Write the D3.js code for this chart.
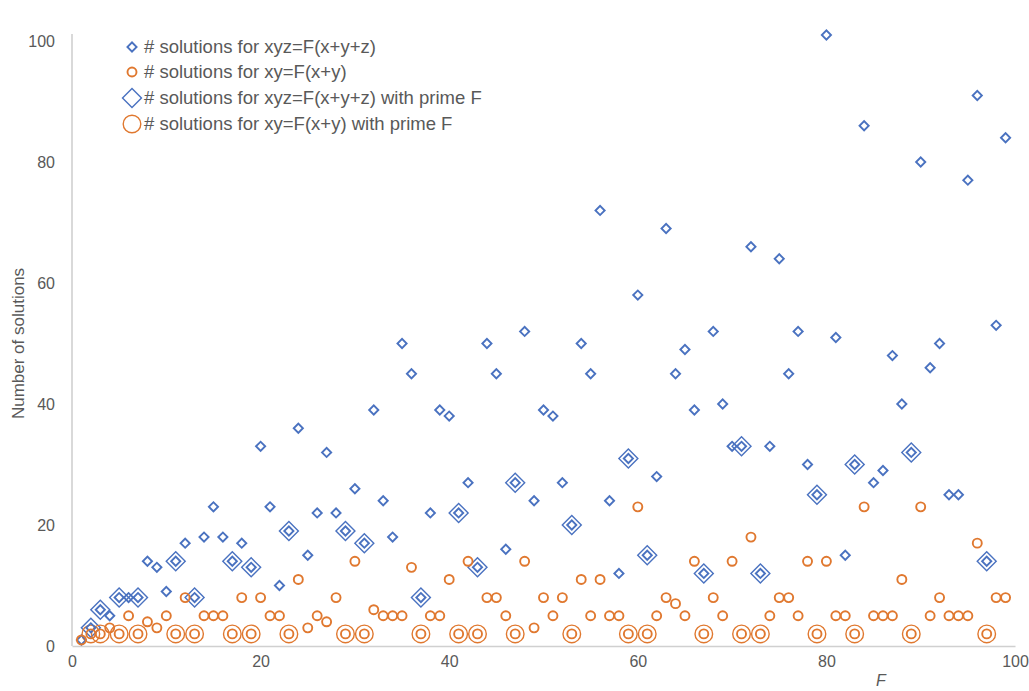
<!DOCTYPE html>
<html>
<head>
<meta charset="utf-8">
<script src="https://cdn.jsdelivr.net/npm/d3@7"></script>
<style>
  html, body { margin: 0; padding: 0; background: #fff; }
  svg { display: block; font-family: "Liberation Sans", Arial, sans-serif; }
</style>
</head>
<body>
<svg id="chart" width="1029" height="691"></svg>
<script>
// F values 1..99
const F = d3.range(1, 100);

// Number of solutions of xyz = F(x+y+z), for F = 1..99
const xyzCounts = [
  1, 3, 6, 5, 8, 8, 8, 14, 13, 9,
  14, 17, 8, 18, 23, 18, 14, 17, 13, 33,
  23, 10, 19, 36, 15, 22, 32, 22, 19, 26,
  17, 39, 24, 18, 50, 45, 8, 22, 39, 38,
  22, 27, 13, 50, 45, 16, 27, 52, 24, 39,
  38, 27, 20, 50, 45, 72, 24, 12, 31, 58,
  15, 28, 69, 45, 49, 39, 12, 52, 40, 33,
  33, 66, 12, 33, 64, 45, 52, 30, 25, 101,
  51, 15, 30, 86, 27, 29, 48, 40, 32, 80,
  46, 50, 25, 25, 77, 91, 14, 53, 84
];

// Number of solutions of xy = F(x+y), for F = 1..99
const xyCounts = [
  1, 2, 2, 3, 2, 5, 2, 4, 3, 5,
  2, 8, 2, 5, 5, 5, 2, 8, 2, 8,
  5, 5, 2, 11, 3, 5, 4, 8, 2, 14,
  2, 6, 5, 5, 5, 13, 2, 5, 5, 11,
  2, 14, 2, 8, 8, 5, 2, 14, 3, 8,
  5, 8, 2, 11, 5, 11, 5, 5, 2, 23,
  2, 5, 8, 7, 5, 14, 2, 8, 5, 14,
  2, 18, 2, 5, 8, 8, 5, 14, 2, 14,
  5, 5, 2, 23, 5, 5, 5, 11, 2, 23,
  5, 8, 5, 5, 5, 17, 2, 8, 8
];

// Prime values of F below 100
const primes = [2, 3, 5, 7, 11, 13, 17, 19, 23, 29, 31, 37, 41, 43, 47,
  53, 59, 61, 67, 71, 73, 79, 83, 89, 97];

const xTicks = [0, 20, 40, 60, 80, 100];
const yTicks = [0, 20, 40, 60, 80, 100];

const legendLabels = [
  "# solutions for xyz=F(x+y+z)",
  "# solutions for xy=F(x+y)",
  "# solutions for xyz=F(x+y+z) with prime F",
  "# solutions for xy=F(x+y) with prime F"
];

const BLUE = "#4a72c0";
const ORANGE = "#e0782f";
const AXIS = "#d0d0d0";
const TEXT = "#595959";

const svg = d3.select("#chart");

const x = d3.scaleLinear().domain([0, 100]).range([72, 1015]);
const y = d3.scaleLinear().domain([0, 100]).range([646, 41]);

const xyzPts = F.map((f, i) => ({ f, v: xyzCounts[i] }));
const xyPts = F.map((f, i) => ({ f, v: xyCounts[i] }));
const xyzPrime = xyzPts.filter(d => primes.includes(d.f));
const xyPrime = xyPts.filter(d => primes.includes(d.f));

// Axes
const xAxis = d3.axisBottom(x).tickValues(xTicks).tickSize(0).tickPadding(10);
const yAxis = d3.axisLeft(y).tickValues(yTicks).tickSize(0).tickPadding(17);

const gx = svg.append("g").attr("transform", `translate(0,${y(0)})`).call(xAxis);
const gy = svg.append("g").attr("transform", `translate(${x(0)},0)`).call(yAxis);

[gx, gy].forEach(g => {
  g.select(".domain").attr("stroke", AXIS).attr("stroke-width", 1.6);
  g.selectAll(".tick text")
    .attr("fill", TEXT)
    .attr("font-size", 16)
    .attr("font-family", "Liberation Sans, Arial, sans-serif");
});
gy.select(".domain").attr("d", `M0,${y(0)}V${y(100) - 7}`);

// Axis titles
svg.append("text")
  .attr("transform", `translate(24,${y(50)}) rotate(-90)`)
  .attr("text-anchor", "middle")
  .attr("fill", TEXT)
  .attr("font-size", 17)
  .text("Number of solutions");

svg.append("text")
  .attr("x", 881)
  .attr("y", 686)
  .attr("text-anchor", "middle")
  .attr("fill", TEXT)
  .attr("font-size", 16)
  .attr("font-style", "italic")
  .text("F");

// Marker shapes
const smallDiamond = d3.symbol().type(d3.symbolSquare).size(42);
const bigDiamond = d3.symbol().type(d3.symbolSquare).size(180);

const plot = svg.append("g");

// Large markers for prime F
plot.selectAll("path.xyzPrime")
  .data(xyzPrime).join("path")
  .attr("class", "xyzPrime")
  .attr("d", bigDiamond)
  .attr("transform", d => `translate(${x(d.f)},${y(d.v)}) rotate(45)`)
  .attr("fill", "none")
  .attr("stroke", BLUE)
  .attr("stroke-width", 1.4);

plot.selectAll("circle.xyPrime")
  .data(xyPrime).join("circle")
  .attr("class", "xyPrime")
  .attr("cx", d => x(d.f))
  .attr("cy", d => y(d.v))
  .attr("r", 8.8)
  .attr("fill", "none")
  .attr("stroke", ORANGE)
  .attr("stroke-width", 1.4);

// Small markers for every F
plot.selectAll("path.xyz")
  .data(xyzPts).join("path")
  .attr("class", "xyz")
  .attr("d", smallDiamond)
  .attr("transform", d => `translate(${x(d.f)},${y(d.v)}) rotate(45)`)
  .attr("fill", "none")
  .attr("stroke", BLUE)
  .attr("stroke-width", 1.9);

plot.selectAll("circle.xy")
  .data(xyPts).join("circle")
  .attr("class", "xy")
  .attr("cx", d => x(d.f))
  .attr("cy", d => y(d.v))
  .attr("r", 4.5)
  .attr("fill", "none")
  .attr("stroke", ORANGE)
  .attr("stroke-width", 1.9);

// Legend
const legend = svg.append("g");
const rows = [
  { kind: "sd", y: 47 },
  { kind: "sc", y: 72 },
  { kind: "bd", y: 98 },
  { kind: "bc", y: 124 }
];
rows.forEach((r, i) => {
  const mx = 132;
  if (r.kind === "sd") {
    legend.append("path").attr("d", smallDiamond)
      .attr("transform", `translate(${mx},${r.y}) rotate(45)`)
      .attr("fill", "none").attr("stroke", BLUE).attr("stroke-width", 1.9);
  } else if (r.kind === "sc") {
    legend.append("circle").attr("cx", mx).attr("cy", r.y).attr("r", 4.5)
      .attr("fill", "none").attr("stroke", ORANGE).attr("stroke-width", 1.9);
  } else if (r.kind === "bd") {
    legend.append("path").attr("d", bigDiamond)
      .attr("transform", `translate(${mx},${r.y}) rotate(45)`)
      .attr("fill", "none").attr("stroke", BLUE).attr("stroke-width", 1.4);
  } else {
    legend.append("circle").attr("cx", mx).attr("cy", r.y).attr("r", 8.8)
      .attr("fill", "none").attr("stroke", ORANGE).attr("stroke-width", 1.4);
  }
  legend.append("text")
    .attr("x", 144)
    .attr("y", r.y)
    .attr("dy", "0.35em")
    .attr("fill", TEXT)
    .attr("font-size", 18.5)
    .text(legendLabels[i]);
});
</script>
</body>
</html>
